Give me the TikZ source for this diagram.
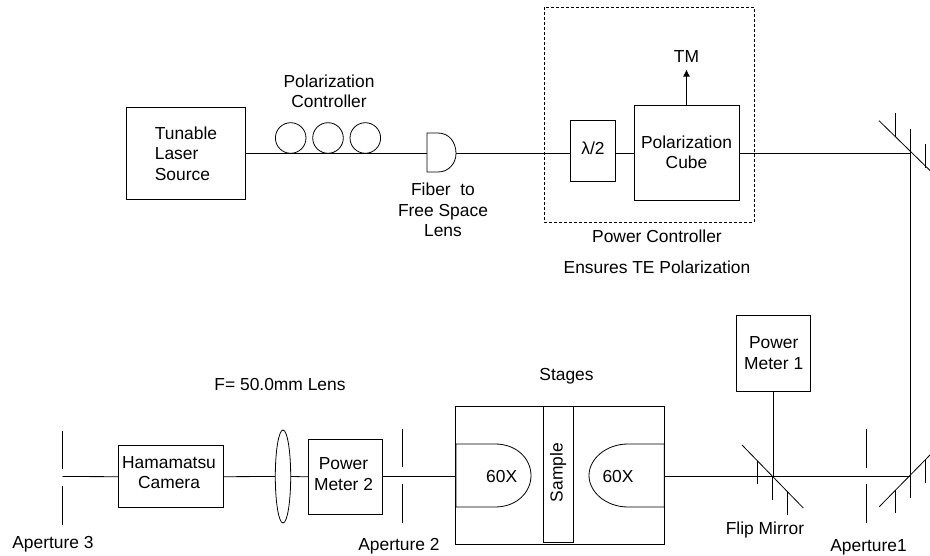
\documentclass[tikz,border=0pt]{standalone}
\usepackage{fontspec}
\setmainfont{Liberation Sans}
\usetikzlibrary{calc,arrows.meta,shapes.geometric}
\tikzstyle{device} = [draw,inner sep=0pt,align=center]
\tikzstyle{coil} = [draw,circle,minimum size=30.6pt,inner sep=0pt]
\tikzstyle{caption} = [align=center,inner sep=0pt]
\begin{document}
\begin{tikzpicture}[>={Latex[length=7pt,width=7pt]},x=1pt,y=-1pt,line width=0.8pt,font=\fontsize{17.4}{20.5}\selectfont]
\useasboundingbox (0,0) rectangle (930,556);
%%% Upper row
\node[device,minimum width=119.5pt,minimum height=92.5pt,align=left] at (186,153.3) (laser) {Tunable\\Laser\\Source};
\foreach \x/\i in {290.7/0,328/1,365.3/2} {
    \node[coil] at (\x,138) (coil\i) {};
}
\node[caption] at (329,91.5) (polctrl) {Polarization\\Controller};
% Fiber lens
\coordinate (lensflat) at (427,153.5);
\coordinate (lenstip) at (456,153.5);
\draw (427,133) -- (438,133) .. controls (449,133) and (456,142) .. (lenstip)
    .. controls (456,163) and (449,172) .. (438,172) -- (427,172) -- cycle;
\node[caption] at (443,210) (lenstext) {Fiber\ \ to\\Free Space\\Lens};
% Power controller
\node[device,minimum width=45pt,minimum height=61.4pt] at (593,151) (halfwave) {};
\node[caption] at (593,148.5) (halfwavetext) {λ/2};
\node[device,minimum width=105pt,minimum height=95pt] at (686.5,152.5) (cube) {Polarization\\Cube};
\node[caption] at (686.5,56.5) (tm) {TM};
\draw[->] (cube.north -| tm) -- ++(0,-35);
\draw[densely dashed] (544.3,7) rectangle (754,222);
\node[caption] at (657,236) (powerctrl) {Power Controller};
\node[caption] at (657,267) (ensures) {Ensures TE Polarization};
% Beam
\coordinate (mirrorup) at (910.5,153.5);
\coordinate (mirrorlow) at (910.5,476.5);
\draw (laser.east |- lensflat) -- (lensflat);
\draw (lenstip) -- (halfwave.west |- lenstip);
\draw (halfwave.east |- lenstip) -- (cube.west |- lenstip);
\draw (cube.east |- lenstip) -- (mirrorup);
\draw (mirrorup) ++(0,-24.5) -- (mirrorlow);
%%% Mirrors
\draw (879,120.7) -- (930,170.5);
\draw (879.3,506.7) -- (930,455);
\draw (742,445) -- (803.3,508);
\foreach \x/\yone/\ytwo in {895/113/137,925/144/168,895/490/513,910.5/476.5/498,925/459/482.7,757/460.7/484,772/476.5/499.5,787/491.7/515} {
    \draw (\x,\yone) -- (\x,\ytwo);
}
\node[caption] at (765,530) (flip) {Flip Mirror};
%%% Lower row
\node[device,minimum width=74pt,minimum height=75.3pt] at (773.7,353.3) (meterone) {Power\\Meter 1};
\coordinate (flipcentre) at (773,476.5);
\draw (meterone.south -| flipcentre) -- (flipcentre);
\node[device,minimum width=209.3pt,minimum height=138pt] at (559.7,475) (stages) {};
\node[caption] at (566.5,376.7) (stagestext) {Stages};
\node[device,minimum width=30.3pt,minimum height=135.5pt] at (558.2,474.2) (sample) {};
\node[caption,rotate=90] at (558,472.7) (sampletext) {Sample};
% Objectives
\draw (456,444) -- (495,444) .. controls (517,444) and (531,459) .. (531,475.5)
    .. controls (531,492) and (517,507) .. (495,507) -- (456,507) -- cycle;
\draw (664.3,444) -- (628,444) .. controls (606,444) and (589,459) .. (589,475.5)
    .. controls (589,492) and (606,507) .. (628,507) -- (664.3,507) -- cycle;
\node[caption] at (501.7,477) (objleft) {60X};
\node[caption] at (618,477) (objright) {60X};
\draw (mirrorlow) -- (stages.east |- mirrorlow);
\node[device,minimum width=73.7pt,minimum height=75.7pt] at (345.2,476.8) (metertwo) {};
\node[caption] at (343.5,474) (metertwotext) {Power\\Meter 2};
\draw (stages.west |- mirrorlow) -- (metertwo.east |- mirrorlow);
\node[draw,ellipse,minimum width=15.4pt,minimum height=93pt,inner sep=0pt] at (283,476.5) (lens) {};
\node[device,minimum width=105pt,minimum height=62pt] at (170.8,476.7) (camera) {};
\node[caption] at (169,472.7) (cameratext) {Hamamatsu\\Camera};
\node[caption] at (280,385) (lenslabel) {F= 50.0mm Lens};
\coordinate (aperturethree) at (62.5,476.5);
\draw (metertwo.west) -- (lens.east);
\draw (lens.west) -- (camera.east);
\draw (camera.west) -- (aperturethree);
%%% Apertures
\foreach \x/\yone/\ytwo/\ythree/\yfour in {866/429/467.5/484/523,402.3/428.7/467/484/523,62.5/431/469/486/525} {
    \draw (\x,\yone) -- (\x,\ytwo);
    \draw (\x,\ythree) -- (\x,\yfour);
}
\node[caption] at (868.5,547) (apone) {Aperture1};
\node[caption] at (399,546.5) (aptwo) {Aperture 2};
\node[caption] at (53,544) (apthree) {Aperture 3};
\end{tikzpicture}
\end{document}
